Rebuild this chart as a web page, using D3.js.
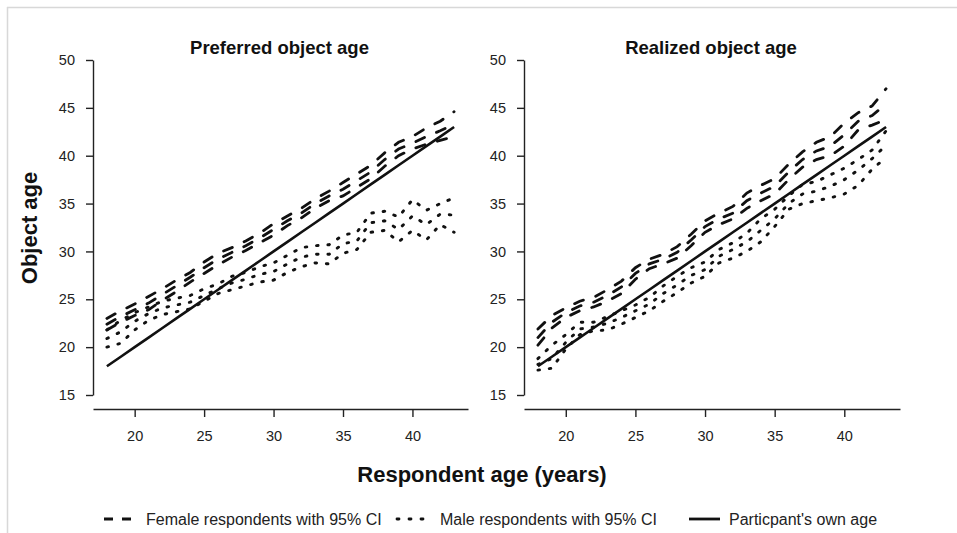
<!DOCTYPE html>
<html>
<head>
<meta charset="utf-8">
<script src="https://cdn.jsdelivr.net/npm/d3@7/dist/d3.min.js"></script>
<style>
  body { margin: 0; background: #fff; }
  svg { display: block; font-family: "Liberation Sans", Arial, sans-serif; }
</style>
</head>
<body>
<div id="chart"></div>
<script>
/* Object age by respondent age: preferred vs realized, two panels */

// Respondent ages on the x axis
const ages = [18, 19, 20, 21, 22, 23, 24, 25, 26, 27, 28, 29, 30,
              31, 32, 33, 34, 35, 36, 37, 38, 39, 40, 41, 42, 43];
// Reference line: the participant's own age
const ownAge = [18, 19, 20, 21, 22, 23, 24, 25, 26, 27, 28, 29, 30,
                31, 32, 33, 34, 35, 36, 37, 38, 39, 40, 41, 42, 43];

// Preferred object age, female respondents (lower CI, mean, upper CI)
const prefFemaleLow  = [21.8, 22.6, 23.3, 23.9, 24.9, 25.8, 26.8, 27.7, 28.6, 29.4, 30.1, 30.9, 31.7,
                        32.7, 33.5, 34.5, 35.3, 35.8, 36.7, 37.6, 38.9, 40.0, 40.7, 41.2, 41.6, 42.0];
const prefFemaleMean = [22.4, 23.2, 23.9, 24.6, 25.5, 26.4, 27.3, 28.3, 29.2, 29.9, 30.6, 31.4, 32.3,
                        33.2, 34.0, 35.0, 35.8, 36.5, 37.4, 38.3, 39.6, 40.7, 41.3, 42.0, 42.6, 43.3];
const prefFemaleHigh = [23.0, 23.8, 24.5, 25.3, 26.1, 27.0, 27.8, 28.9, 29.8, 30.4, 31.1, 31.9, 32.9,
                        33.7, 34.5, 35.5, 36.3, 37.2, 38.1, 39.0, 40.3, 41.4, 42.0, 42.9, 43.6, 44.6];

// Preferred object age, male respondents
const prefMaleLow  = [20.0, 20.4, 21.8, 22.8, 23.4, 23.7, 24.0, 24.8, 25.6, 26.0, 26.4, 26.8, 27.0,
                      27.8, 28.4, 28.8, 28.7, 29.8, 30.2, 32.0, 32.2, 31.0, 32.2, 31.2, 32.8, 32.0];
const prefMaleMean = [20.9, 21.6, 22.7, 23.5, 24.1, 24.4, 24.7, 25.4, 26.1, 26.7, 27.1, 27.6, 27.9,
                      28.7, 29.4, 29.7, 29.7, 30.8, 31.1, 33.0, 33.2, 32.3, 33.7, 32.8, 33.9, 33.8];
const prefMaleHigh = [21.8, 22.8, 23.6, 24.2, 24.8, 25.1, 25.4, 26.1, 26.6, 27.4, 27.8, 28.4, 28.8,
                      29.6, 30.4, 30.6, 30.7, 31.7, 32.0, 34.0, 34.2, 33.6, 35.4, 34.3, 35.0, 35.6];

// Realized object age, female respondents
const realFemaleLow  = [20.2, 22.0, 23.1, 23.8, 24.2, 24.8, 25.6, 27.1, 28.2, 28.7, 29.3, 30.6, 32.0,
                        32.8, 33.4, 34.5, 35.3, 36.0, 37.5, 38.8, 39.6, 40.0, 41.0, 42.7, 43.2, 43.8];
const realFemaleMean = [21.0, 22.6, 23.6, 24.3, 24.7, 25.4, 26.3, 27.7, 28.7, 29.2, 29.9, 31.2, 32.6,
                        33.4, 34.0, 35.3, 36.1, 36.8, 38.3, 39.6, 40.5, 41.0, 42.2, 43.6, 44.2, 45.4];
const realFemaleHigh = [21.9, 23.3, 24.1, 24.8, 25.2, 26.0, 26.9, 28.3, 29.2, 29.7, 30.5, 31.8, 33.2,
                        34.0, 34.7, 36.1, 36.9, 37.6, 39.1, 40.4, 41.4, 42.0, 43.4, 44.5, 45.2, 47.0];

// Realized object age, male respondents
const realMaleLow  = [17.6, 17.8, 19.8, 21.3, 21.7, 21.8, 22.4, 23.1, 23.8, 24.8, 25.7, 26.7, 27.4,
                      28.8, 29.3, 30.0, 31.0, 32.6, 34.4, 35.0, 35.3, 35.6, 36.0, 36.9, 38.6, 39.8];
const realMaleMean = [18.2, 18.8, 20.5, 21.9, 22.1, 22.5, 23.1, 23.8, 24.5, 25.6, 26.5, 27.5, 28.1,
                      29.5, 30.2, 31.0, 32.2, 33.4, 35.0, 36.0, 36.3, 36.8, 37.5, 38.5, 39.7, 41.1];
const realMaleHigh = [18.8, 20.2, 21.3, 22.6, 22.6, 23.2, 23.8, 24.4, 25.2, 26.4, 27.4, 28.3, 28.9,
                      30.2, 30.9, 31.9, 33.4, 34.4, 35.8, 37.0, 37.3, 38.0, 38.7, 39.6, 40.6, 42.6];

const xTicks = [20, 25, 30, 35, 40];
const yTicks = [15, 20, 25, 30, 35, 40, 45, 50];

const panelTitles = ["Preferred object age", "Realized object age"];
const legendLabels = ["Female respondents with 95% CI", "Male respondents with 95% CI", "Particpant's own age"];

const width = 957, height = 533;
const ink = "#111";

const svg = d3.select("#chart").append("svg")
    .attr("width", width)
    .attr("height", height);

svg.append("rect").attr("width", width).attr("height", height).attr("fill", "#fff");

// light frame of the original figure (top and left only)
svg.append("line").attr("x1", 7).attr("x2", width).attr("y1", 7.5).attr("y2", 7.5)
    .attr("stroke", "#d8d8d8").attr("stroke-width", 1.5);
svg.append("line").attr("x1", 7.5).attr("x2", 7.5).attr("y1", 7).attr("y2", height)
    .attr("stroke", "#d8d8d8").attr("stroke-width", 1.5);

const y = d3.scaleLinear().domain([15, 50]).range([395, 60]);

const panels = [
    {title: panelTitles[0], x0: 93, x1: 468,
     female: [prefFemaleLow, prefFemaleMean, prefFemaleHigh],
     male: [prefMaleLow, prefMaleMean, prefMaleHigh]},
    {title: panelTitles[1], x0: 524, x1: 900,
     female: [realFemaleLow, realFemaleMean, realFemaleHigh],
     male: [realMaleLow, realMaleMean, realMaleHigh]}
];

const dashStyle = "9.5,13";
const dotStyle = "1.6,9.8";

panels.forEach(p => {
    const x = d3.scaleLinear().domain([17, 44]).range([p.x0, p.x1]);
    const g = svg.append("g");

    // y axis
    const yAxis = g.append("g")
        .attr("transform", `translate(${p.x0},0)`)
        .call(d3.axisLeft(y).tickValues(yTicks).tickSize(7).tickSizeOuter(0).tickPadding(11));
    // x axis
    const xAxis = g.append("g")
        .attr("transform", `translate(0,409)`)
        .call(d3.axisBottom(x).tickValues(xTicks).tickSize(8).tickSizeOuter(0).tickPadding(14));

    [yAxis, xAxis].forEach(a => {
        a.selectAll("path, line").attr("stroke", "#222").attr("stroke-width", 1.4);
        a.selectAll("text").attr("fill", "#222").style("font-size", "14.5px");
    });

    g.append("text")
        .attr("x", (p.x0 + p.x1) / 2 - 1)
        .attr("y", 54)
        .attr("text-anchor", "middle")
        .attr("font-weight", "bold")
        .attr("fill", ink)
        .style("font-size", "18.5px")
        .text(p.title);

    const line = d3.line()
        .x((d, i) => x(ages[i]))
        .y(d => y(d));

    g.append("path")
        .datum(ownAge)
        .attr("d", line)
        .attr("fill", "none")
        .attr("stroke", ink)
        .attr("stroke-width", 2.6);

    p.female.forEach(s => {
        g.append("path")
            .datum(s)
            .attr("d", line)
            .attr("fill", "none")
            .attr("stroke", ink)
            .attr("stroke-width", 2.8)
            .attr("stroke-linecap", "round")
            .attr("stroke-dasharray", dashStyle);
    });

    p.male.forEach(s => {
        g.append("path")
            .datum(s)
            .attr("d", line)
            .attr("fill", "none")
            .attr("stroke", ink)
            .attr("stroke-width", 2.9)
            .attr("stroke-linecap", "round")
            .attr("stroke-dasharray", dotStyle);
    });
});

// shared axis titles
svg.append("text")
    .attr("transform", "translate(37,228) rotate(-90)")
    .attr("text-anchor", "middle")
    .attr("font-weight", "bold")
    .attr("fill", ink)
    .style("font-size", "22px")
    .text("Object age");

svg.append("text")
    .attr("x", 482)
    .attr("y", 482)
    .attr("text-anchor", "middle")
    .attr("font-weight", "bold")
    .attr("fill", ink)
    .style("font-size", "22px")
    .text("Respondent age (years)");

// legend
const legend = svg.append("g").attr("transform", "translate(0,519)");
const legendItems = [
    {x: 104, tx: 146, dash: "9,9", cap: "butt", w: 27},
    {x: 397, tx: 440, dash: "2,10", cap: "round", w: 26},
    {x: 689, tx: 729, dash: null, cap: "butt", w: 31}
];
legendItems.forEach((d, i) => {
    legend.append("line")
        .attr("x1", d.x).attr("x2", d.x + d.w)
        .attr("stroke", ink)
        .attr("stroke-width", 2.8)
        .attr("stroke-linecap", d.cap)
        .attr("stroke-dasharray", d.dash);
    legend.append("text")
        .attr("x", d.tx)
        .attr("y", 5.5)
        .attr("fill", "#222")
        .style("font-size", "16px")
        .text(legendLabels[i]);
});
</script>
</body>
</html>
